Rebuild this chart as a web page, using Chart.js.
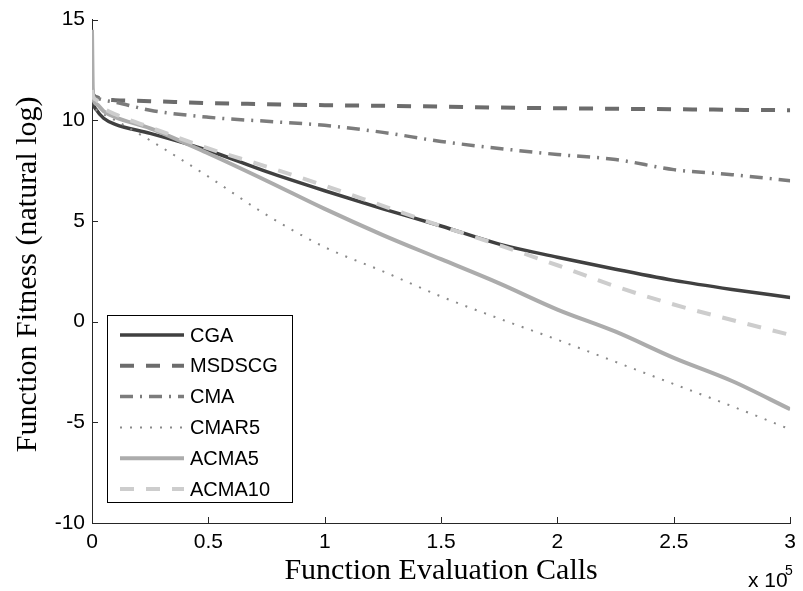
<!DOCTYPE html>
<html>
<head>
<meta charset="utf-8">
<script src="https://cdn.jsdelivr.net/npm/chart.js@4"></script>
<style>
  html, body { margin: 0; padding: 0; background: #fff; }
  #chart { display: block; }
</style>
</head>
<body>
<canvas id="chart" width="803" height="591"></canvas>
<script>
// evaluation calls, in units of 1e5
const evalCalls = [0, 0.004, 0.02, 0.05, 0.1, 0.25, 0.5, 0.75, 1, 1.25, 1.5, 1.75, 2, 2.25, 2.5, 2.75, 3];

const cgaValues     = [11.3, 10.9, 10.5, 10.1, 9.8, 9.35, 8.5, 7.45, 6.5, 5.6, 4.75, 3.85, 3.2, 2.6, 2.05, 1.6, 1.2];
const msdscgValues  = [11.6, 11.3, 11.15, 11.05, 11.0, 10.95, 10.85, 10.8, 10.75, 10.72, 10.68, 10.63, 10.6, 10.57, 10.55, 10.52, 10.5];
const cmaValues     = [11.4, 11.2, 11.1, 11.0, 10.9, 10.5, 10.15, 9.95, 9.75, 9.4, 8.95, 8.6, 8.3, 8.05, 7.55, 7.3, 7.0];
const cmar5Values   = [11.0, 10.8, 10.5, 10.3, 10.0, 9.0, 7.2, 5.3, 3.7, 2.5, 1.25, 0.15, -0.9, -2.0, -3.1, -4.2, -5.35];
const acma5Values   = [14.5, 11.3, 10.8, 10.45, 10.15, 9.6, 8.35, 7.0, 5.6, 4.3, 3.1, 1.9, 0.6, -0.5, -1.8, -2.95, -4.35];
const acma10Values  = [11.5, 11.2, 11.0, 10.6, 10.3, 9.65, 8.6, 7.7, 6.75, 5.75, 4.75, 3.8, 2.8, 1.75, 0.85, 0.08, -0.66];

const seriesNames = ['CGA', 'MSDSCG', 'CMA', 'CMAR5', 'ACMA5', 'ACMA10'];
const seriesValues = [cgaValues, msdscgValues, cmaValues, cmar5Values, acma5Values, acma10Values];

const xTickLabels = ['0', '0.5', '1', '1.5', '2', '2.5', '3'];
const yTickLabels = ['-10', '-5', '0', '5', '10', '15'];

const seriesStyles = [
  { color: '#404040', width: 3.5, dash: [] },
  { color: '#6c6c6c', width: 4, dash: [14, 12] },
  { color: '#7c7c7c', width: 3.5, dash: [13, 7, 2, 7] },
  { color: '#8a8a8a', width: 2, dash: [2, 8] },
  { color: '#acacac', width: 4, dash: [] },
  { color: '#cdcdcd', width: 4, dash: [14, 12] }
];

const tickFont = { family: '"Liberation Sans", Arial, sans-serif', size: 21 };
const titleFont = '30px "Liberation Serif", "Times New Roman", serif';

const datasets = seriesNames.map((name, i) => ({
  label: name,
  data: evalCalls.map((x, j) => ({ x, y: seriesValues[i][j] })),
  borderColor: seriesStyles[i].color,
  borderWidth: seriesStyles[i].width,
  borderDash: seriesStyles[i].dash,
  pointRadius: 0,
  fill: false,
  cubicInterpolationMode: 'monotone',
  order: seriesNames.length - i
}));

// inward ticks, axis titles, exponent and legend box
const matlabDecor = {
  id: 'matlabDecor',
  afterDraw(chart) {
    const { ctx, chartArea, scales } = chart;
    ctx.save();
    ctx.strokeStyle = '#262626';
    ctx.lineWidth = 1;
    ctx.beginPath();
    scales.x.ticks.forEach((t) => {
      const px = Math.round(scales.x.getPixelForValue(t.value)) + 0.5;
      ctx.moveTo(px, chartArea.bottom);
      ctx.lineTo(px, chartArea.bottom - 6);
    });
    scales.y.ticks.forEach((t) => {
      const py = Math.round(scales.y.getPixelForValue(t.value)) + 0.5;
      ctx.moveTo(chartArea.left, py);
      ctx.lineTo(chartArea.left + 6, py);
    });
    ctx.stroke();

    // axis titles
    ctx.fillStyle = '#000';
    ctx.font = titleFont;
    ctx.textAlign = 'center';
    ctx.textBaseline = 'alphabetic';
    ctx.fillText('Function Evaluation Calls', (chartArea.left + chartArea.right) / 2, 579);
    ctx.save();
    ctx.translate(36, (chartArea.top + chartArea.bottom) / 2 + 3);
    ctx.rotate(-Math.PI / 2);
    ctx.fillText('Function Fitness (natural log)', 0, 0);
    ctx.restore();

    // x 10^5
    ctx.font = '21px "Liberation Sans", Arial, sans-serif';
    ctx.textAlign = 'left';
    ctx.fillText('x 10', 748, 587);
    ctx.font = '14px "Liberation Sans", Arial, sans-serif';
    ctx.fillText('5', 785, 575);

    // legend
    const box = { x: 107.5, y: 315.5, w: 185, h: 187 };
    ctx.fillStyle = '#fff';
    ctx.fillRect(box.x, box.y, box.w, box.h);
    ctx.strokeStyle = '#000';
    ctx.lineWidth = 1;
    ctx.strokeRect(box.x, box.y, box.w, box.h);
    ctx.font = '20px "Liberation Sans", Arial, sans-serif';
    ctx.textBaseline = 'middle';
    seriesNames.forEach((name, i) => {
      const cy = 335 + i * 30.8;
      const st = seriesStyles[i];
      ctx.strokeStyle = st.color;
      ctx.lineWidth = st.width;
      ctx.setLineDash(st.dash);
      ctx.beginPath();
      ctx.moveTo(120, cy);
      ctx.lineTo(184, cy);
      ctx.stroke();
      ctx.setLineDash([]);
      ctx.fillStyle = '#000';
      ctx.fillText(name, 190, cy + 1);
    });
    ctx.restore();
  }
};

new Chart(document.getElementById('chart'), {
  type: 'line',
  data: { datasets },
  plugins: [matlabDecor],
  options: {
    responsive: false,
    animation: false,
    devicePixelRatio: 1,
    layout: { padding: { top: 19, right: 8, left: 0, bottom: 0 } },
    plugins: {
      legend: { display: false },
      tooltip: { enabled: false }
    },
    scales: {
      x: {
        type: 'linear',
        min: 0,
        max: 3,
        afterFit(scale) { scale.height = 68; },
        afterBuildTicks(scale) {
          scale.ticks = xTickLabels.map((l) => ({ value: Number(l) }));
        },
        ticks: {
          color: '#000',
          font: tickFont,
          padding: 7,
          maxRotation: 0,
          callback: (v, i) => xTickLabels[i]
        },
        grid: { display: true, drawOnChartArea: false, drawTicks: false, color: 'rgba(0,0,0,0)' },
        border: { display: true, color: '#262626', width: 1 }
      },
      y: {
        type: 'linear',
        min: -10,
        max: 15,
        afterFit(scale) { scale.width = 92; },
        afterBuildTicks(scale) {
          scale.ticks = yTickLabels.map((l) => ({ value: Number(l) }));
        },
        ticks: {
          color: '#000',
          font: tickFont,
          padding: 7,
          callback: (v, i) => yTickLabels[i]
        },
        grid: { display: true, drawOnChartArea: false, drawTicks: false, color: 'rgba(0,0,0,0)' },
        border: { display: true, color: '#262626', width: 1 }
      }
    }
  }
});
</script>
</body>
</html>
